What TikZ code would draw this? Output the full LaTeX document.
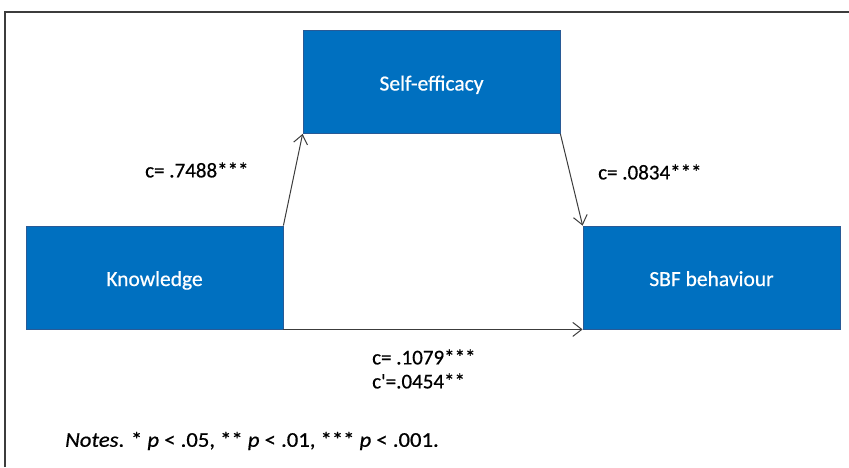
\documentclass[tikz,border=0pt]{standalone}
\usepackage{fontspec}
\setmainfont{Carlito}[FakeBold=0.6]
\usetikzlibrary{arrows.meta}
\definecolor{boxblue}{RGB}{0,112,192}
\definecolor{boxedge}{RGB}{40,90,150}
\definecolor{linegray}{RGB}{60,60,60}
\tikzset{
  varbox/.style={draw=boxedge, line width=0.8pt, fill=boxblue, text=white, minimum width=257pt, minimum height=103pt, inner sep=0pt, text height=17pt, text depth=0pt, font=\fontsize{21.5}{24}\selectfont},
  lbl/.style={anchor=west, inner sep=0pt, font=\fontsize{21}{24}\selectfont},
  conn/.style={draw=linegray, line width=1pt, -{Straight Barb[length=9pt,width=14pt,line width=1pt]}}
}
\begin{document}
\begin{tikzpicture}[x=1pt,y=-1pt]
\useasboundingbox (0,0) rectangle (849,467);
\draw[line width=1.6pt, draw=linegray] (5,467) -- (5,12) -- (849,12);
\node[varbox] (se) at (431.5,82) {Self-efficacy};
\node[varbox] (kn) at (154.5,277.5) {Knowledge};
\node[varbox] (sbf) at (711.5,277.5) {SBF behaviour};
\draw[conn] (kn.north east) -- (se.south west);
\draw[conn] (se.south east) -- (sbf.north west);
\draw[conn] (kn.south east) -- (sbf.south west);
\node[lbl] (la) at (145,170) {c= .7488***};
\node[lbl] (lb) at (598,172) {c= .0834***};
\node[lbl] (lc) at (372,357) {c= .1079***};
\node[lbl] (ld) at (372,381) {c\textquotesingle=.0454**};
\node[lbl] (notes) at (65,441) {\scalebox{1.08}[1]{\textit{Notes}. * \textit{p} < .05, ** \textit{p} < .01, *** \textit{p} < .001.}};
\end{tikzpicture}
\end{document}
